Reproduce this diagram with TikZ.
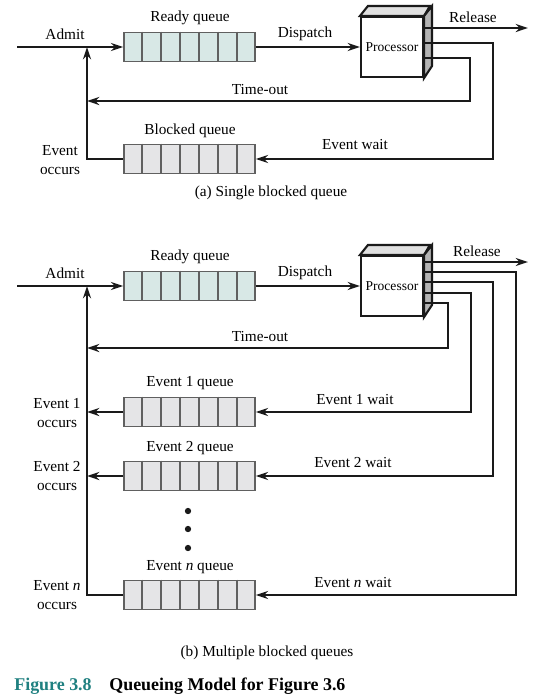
\documentclass[tikz,border=0pt]{standalone}
\usepackage{fontspec}
\setmainfont{Liberation Serif}
\usetikzlibrary{arrows.meta,calc}

\definecolor{linedark}{HTML}{1A1A1A}
\definecolor{qborder}{HTML}{606060}
\definecolor{readyfill}{HTML}{D8E8E6}
\definecolor{blockfill}{HTML}{E5E5E7}
\definecolor{topgray}{HTML}{E0E0E0}
\definecolor{sidegray}{HTML}{B4B4B4}
\definecolor{capteal}{HTML}{1F8080}

\newcommand\lblsize{\fontsize{8.7}{10.4}\selectfont}
\newcommand\cpusize{\fontsize{7.7}{9}\selectfont}

% queue cells and processor box
\newcommand\qcells[1]{%
  \foreach \k in {1,...,6}
    \draw[qborder,line width=0.9pt] ($(#1.north west)!\k/7!(#1.north east)$) -- ($(#1.south west)!\k/7!(#1.south east)$);}
\newcommand\cpudepth[1]{%
  \draw[linedark,line width=1.2pt,fill=topgray] (#1.north west) -- ++(8,-10) -- ++(62,0) -- (#1.north east) -- cycle;
  \draw[linedark,line width=1.2pt,fill=sidegray] (#1.north east) -- ++(8,-10) -- ++(0,60) -- (#1.south east) -- cycle;}

\tikzset{
  flow/.style={draw=linedark,line width=1.6pt},
  tip/.style={-{Stealth[length=7pt,width=4.6pt]}},
  queue/.style={draw=qborder,line width=0.9pt,minimum width=2.62cm,minimum height=0.58cm,inner sep=0pt},
  readyq/.style={queue,fill=readyfill},
  blockq/.style={queue,fill=blockfill},
  lbl/.style={font=\lblsize,inner sep=1pt,align=center},
  cpu/.style={draw=linedark,line width=1.2pt,fill=white,minimum width=1.24cm,minimum height=1.2cm,inner sep=0pt,font=\cpusize},
}

\begin{document}
\begin{tikzpicture}[x=0.02cm,y=-0.02cm]
\useasboundingbox (0,0) rectangle (543,698);

% (a) single blocked queue
\node[readyq] (readyA) at (189.5,47) {};
\qcells{readyA}
\node[blockq] (blockA) at (189.5,159) {};
\qcells{blockA}
\node[cpu] (cpuA) at (392,47) {Processor};
\cpudepth{cpuA}

\coordinate (inA) at (17,47);
\coordinate (admA) at (87,47);
\coordinate (pAr) at (424,28);
\coordinate (pAw) at (424,43);
\coordinate (pAt) at (424,58);
\coordinate (relA) at (528,28);
\coordinate (toA) at (470,101);
\coordinate (waitA) at (493,159);

\draw[flow,tip] (inA) -- (readyA.west);
\draw[flow,tip] (readyA.east) -- (cpuA.west);
\draw[draw=linedark,line width=1.2pt,tip] (pAr) -- (relA);
\draw[flow,tip] (pAt) -| (toA) -- (toA -| admA);
\draw[flow,tip] (pAw) -| (waitA) -- (blockA.east);
\draw[flow,tip] (blockA.west) -| (admA);

\node[lbl] (lReadyA) at (190,18) {Ready queue};
\node[lbl] (lAdmitA) at (65,34) {Admit};
\node[lbl] (lDispA) at (305,34) {Dispatch};
\node[lbl] (lRelA) at (473,17) {Release};
\node[lbl] (lToA) at (260,90) {Time-out};
\node[lbl] (lBlockA) at (190,131) {Blocked queue};
\node[lbl] (lWaitA) at (355,145) {Event wait};
\node[lbl] (lOccA) at (60,160) {Event\\occurs};
\node[lbl] (capA) at (271,193) {(a) Single blocked queue};

% (b) multiple blocked queues
\node[readyq] (readyB) at (189.5,286) {};
\qcells{readyB}
\node[blockq] (q1B) at (189.5,412) {};
\qcells{q1B}
\node[blockq] (q2B) at (189.5,476) {};
\qcells{q2B}
\node[blockq] (qnB) at (189.5,595) {};
\qcells{qnB}
\node[cpu] (cpuB) at (392,286) {Processor};
\cpudepth{cpuB}

\coordinate (inB) at (17,286);
\coordinate (admB) at (87,286);
\coordinate (pBr) at (424,262);
\coordinate (pBn) at (424,272);
\coordinate (pB2) at (424,282);
\coordinate (pB1) at (424,293);
\coordinate (pBt) at (424,303);
\coordinate (relB) at (528,262);
\coordinate (toB) at (448,348);
\coordinate (w1B) at (471,412);
\coordinate (w2B) at (493,476);
\coordinate (wnB) at (516,595);

\draw[flow,tip] (inB) -- (readyB.west);
\draw[flow,tip] (readyB.east) -- (cpuB.west);
\draw[draw=linedark,line width=0.9pt,tip] (pBr) -- (relB);
\draw[flow,tip] (pBt) -| (toB) -- (toB -| admB);
\draw[flow,tip] (pB1) -| (w1B) -- (q1B.east);
\draw[flow,tip] (pB2) -| (w2B) -- (q2B.east);
\draw[flow,tip] (pBn) -| (wnB) -- (qnB.east);
\draw[flow,tip] (qnB.west) -| (admB);
\draw[flow,tip] (q1B.west) -- (q1B.west -| admB);
\draw[flow,tip] (q2B.west) -- (q2B.west -| admB);

\foreach \yy in {511,529,548}
  \fill[linedark] (188,\yy) circle[radius=1.8pt];

\node[lbl] (lReadyB) at (190,257) {Ready queue};
\node[lbl] (lAdmitB) at (65,273) {Admit};
\node[lbl] (lDispB) at (305,273) {Dispatch};
\node[lbl] (lRelB) at (477,251) {Release};
\node[lbl] (lToB) at (260,337) {Time-out};
\node[lbl] (lQ1B) at (190,383) {Event 1 queue};
\node[lbl] (lW1B) at (355,400) {Event 1 wait};
\node[lbl] (lO1B) at (57,413) {Event 1\\occurs};
\node[lbl] (lQ2B) at (190,448) {Event 2 queue};
\node[lbl] (lW2B) at (353,463) {Event 2 wait};
\node[lbl] (lO2B) at (57,476) {Event 2\\occurs};
\node[lbl] (lQnB) at (190,567) {Event \textit{n} queue};
\node[lbl] (lWnB) at (353,583) {Event \textit{n} wait};
\node[lbl] (lOnB) at (57,595) {Event \textit{n}\\occurs};
\node[lbl] (capB) at (267,653) {(b) Multiple blocked queues};

% figure caption
\node[anchor=west,inner sep=0pt,font=\fontsize{10.2}{12}\selectfont\bfseries,text=capteal] (figno) at (14,686) {Figure 3.8};
\node[anchor=west,inner sep=0pt,font=\fontsize{10.2}{12}\selectfont\bfseries] (figtitle) at (109,686) {Queueing Model for Figure 3.6};
\end{tikzpicture}
\end{document}
